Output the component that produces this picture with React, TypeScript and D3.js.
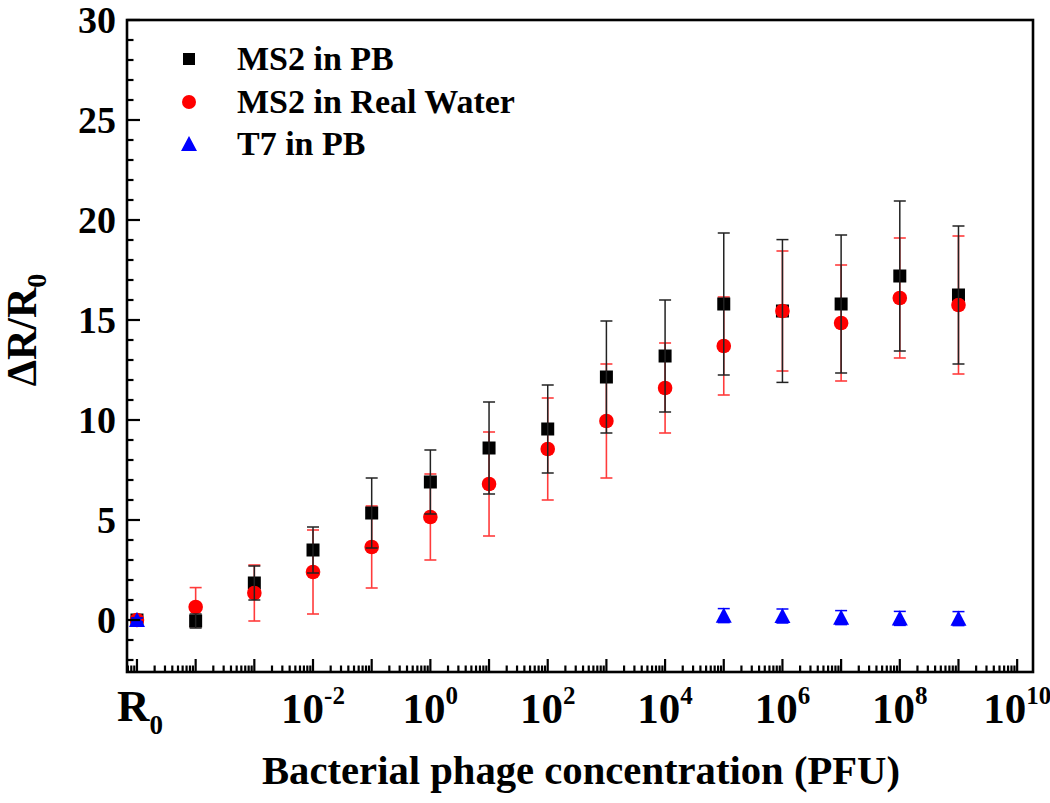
import React from 'react';
import * as d3 from 'd3';

// Concentrations (PFU); the first entry is the R0 reference position
const concentrations = [1e-5, 1e-4, 1e-3, 1e-2, 1e-1, 1e0, 1e1, 1e2, 1e3, 1e4, 1e5, 1e6, 1e7, 1e8, 1e9];
const ms2PB = [0, -0.05, 1.85, 3.5, 5.35, 6.9, 8.6, 9.55, 12.15, 13.2, 15.8, 15.45, 15.8, 17.2, 16.25];
const ms2PBErr = [0.1, 0.35, 0.85, 1.15, 1.75, 1.6, 2.3, 2.2, 2.8, 2.8, 3.55, 3.57, 3.45, 3.75, 3.45];
const ms2Water = [0, 0.65, 1.35, 2.4, 3.65, 5.15, 6.8, 8.55, 9.95, 11.6, 13.7, 15.45, 14.85, 16.1, 15.75];
const ms2WaterErr = [0.1, 0.97, 1.4, 2.1, 2.05, 2.15, 2.6, 2.55, 2.85, 2.25, 2.45, 3.0, 2.9, 3.0, 3.45];
const t7Conc = [1e-5, 1e5, 1e6, 1e7, 1e8, 1e9];
const t7PB = [0, 0.22, 0.2, 0.12, 0.08, 0.07];
const t7Err = [0.1, 0.35, 0.35, 0.35, 0.35, 0.35];

const xTickExps = [-2, 0, 2, 4, 6, 8, 10];
const yTicks = [0, 5, 10, 15, 20, 25, 30];
const legendLabels = ['MS2 in PB', 'MS2 in Real Water', 'T7 in PB'];

const W = 1050, H = 803;
const L = 127, R = 1033, T = 20, B = 672;
const FONT = '"Liberation Serif", "Times New Roman", serif';

export default function App() {
  const x = d3.scaleLog().domain([Math.pow(10, -5.17), Math.pow(10, 10.27)]).range([L, R]);
  const y = d3.scaleLinear().domain([-2.6, 30]).range([B, T]);

  // x ticks: majors each decade, minors 2..9
  const [d0, d1] = x.domain();
  const majors: number[] = [];
  const minors: number[] = [];
  for (let e = -6; e <= 10; e++) {
    const base = Math.pow(10, e);
    if (base >= d0 && base <= d1) majors.push(base);
    for (let m = 2; m <= 9; m++) {
      const v = m * base;
      if (v >= d0 && v <= d1) minors.push(v);
    }
  }
  const yMinor = d3.range(-2, 31, 1).filter((v) => v % 5 !== 0);

  const redErr = '#ff3b3b';
  const capW = 6;

  const errBar = (cx: number, lo: number, hi: number, color: string, key: string, sw = 1.6) => (
    <g key={key} stroke={color} strokeWidth={sw}>
      <line x1={cx} x2={cx} y1={y(lo)} y2={y(hi)} />
      <line x1={cx - capW} x2={cx + capW} y1={y(lo)} y2={y(lo)} />
      <line x1={cx - capW} x2={cx + capW} y1={y(hi)} y2={y(hi)} />
    </g>
  );

  const tri = (cx: number, cy: number, s: number) => {
    const h = s * 0.88;
    return `M${cx},${cy - h / 2 - 1}L${cx + s / 2},${cy + h / 2}L${cx - s / 2},${cy + h / 2}Z`;
  };

  return (
    <svg width={W} height={H} style={{ position: 'absolute', left: 0, top: 0, background: '#fff' }}>
      <rect x={0} y={0} width={W} height={H} fill="#fff" />
      {/* red error bars */}
      {concentrations.map((c, i) =>
        errBar(x(c), ms2Water[i] - ms2WaterErr[i], ms2Water[i] + ms2WaterErr[i], redErr, 're' + i, 1.6)
      )}
      {/* black squares */}
      {concentrations.map((c, i) => (
        <rect key={'sq' + i} x={x(c) - 6.5} y={y(ms2PB[i]) - 6.5} width={13} height={13} fill="#000" />
      ))}
      {/* red circles */}
      {concentrations.map((c, i) => (
        <circle key={'ci' + i} cx={x(c)} cy={y(ms2Water[i])} r={7.3} fill="#ff0000" />
      ))}
      {/* black error bars */}
      {concentrations.map((c, i) =>
        errBar(x(c), ms2PB[i] - ms2PBErr[i], ms2PB[i] + ms2PBErr[i], '#222', 'be' + i, 1.5)
      )}
      {/* T7 */}
      {t7Conc.map((c, i) => errBar(x(c), t7PB[i] - t7Err[i], t7PB[i] + t7Err[i], '#0000ff', 'te' + i, 1.5))}
      {t7Conc.map((c, i) => (
        <path key={'tr' + i} d={tri(x(c), y(t7PB[i]), 16)} fill="#0000ff" />
      ))}

      {/* frame */}
      <rect x={L} y={T} width={R - L} height={B - T} fill="none" stroke="#000" strokeWidth={2.6} />

      {/* ticks */}
      <g stroke="#000" strokeWidth={2.2}>
        {majors.map((v, i) => (
          <line key={'xm' + i} x1={x(v)} x2={x(v)} y1={B} y2={B - 13} />
        ))}
        {minors.map((v, i) => (
          <line key={'xn' + i} x1={x(v)} x2={x(v)} y1={B} y2={B - 6.5} />
        ))}
        {yTicks.map((v, i) => (
          <line key={'ym' + i} x1={L} x2={L + 13} y1={y(v)} y2={y(v)} />
        ))}
        {yMinor.map((v, i) => (
          <line key={'yn' + i} x1={L} x2={L + 6.5} y1={y(v)} y2={y(v)} />
        ))}
      </g>

      {/* y tick labels */}
      <g fontFamily={FONT} fontWeight="bold" fontSize={38} textAnchor="end">
        {yTicks.map((v, i) => (
          <text key={'yl' + i} x={L - 11} y={y(v) + 13}>
            {v}
          </text>
        ))}
      </g>

      {/* x tick labels */}
      <g fontFamily={FONT} fontWeight="bold" fontSize={43} textAnchor="middle">
        {xTickExps.map((e, i) => (
          <text key={'xl' + i} x={x(Math.pow(10, e))} y={723}>
            10
            <tspan fontSize={25} dy={-19}>
              {e}
            </tspan>
          </text>
        ))}
        <text x={x(concentrations[0]) + 3} y={721} fontSize={45}>
          R
          <tspan fontSize={27} dy={13}>
            0
          </tspan>
        </text>
      </g>

      {/* axis titles */}
      <text
        x={581}
        y={784}
        fontFamily={FONT}
        fontWeight="bold"
        fontSize={40}
        textAnchor="middle"
        textLength={638}
        lengthAdjust="spacingAndGlyphs"
      >
        Bacterial phage concentration (PFU)
      </text>
      <text
        transform={`translate(36,${330}) rotate(-90)`}
        fontFamily={FONT}
        fontWeight="bold"
        fontSize={42}
        textAnchor="middle"
      >
        ΔR/R
        <tspan fontSize={28} dy={10}>
          0
        </tspan>
      </text>

      {/* legend */}
      <g fontFamily={FONT} fontWeight="bold" fontSize={34}>
        <rect x={189 - 6} y={59 - 6} width={12} height={12} fill="#000" />
        <circle cx={189} cy={102} r={7} fill="#ff0000" />
        <path d={tri(189, 144, 16)} fill="#0000ff" />
        {legendLabels.map((t, i) => (
          <text key={'lg' + i} x={237} y={[59, 102, 144][i] + 11}>
            {t}
          </text>
        ))}
      </g>
    </svg>
  );
}
